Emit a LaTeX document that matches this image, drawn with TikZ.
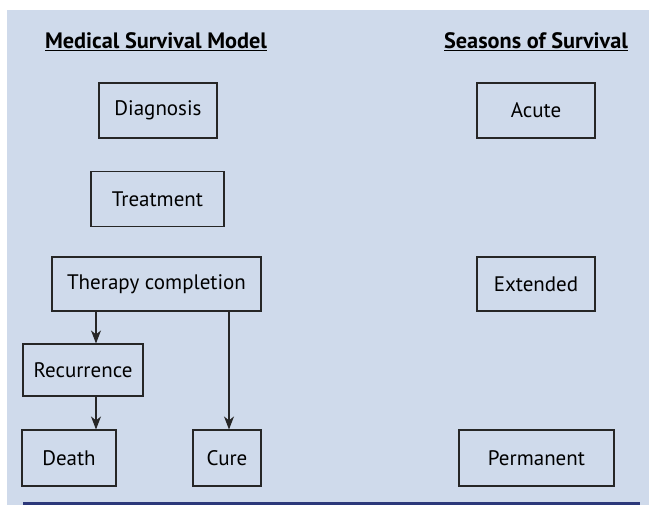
\documentclass[tikz,border=0pt]{standalone}
\usepackage{fontspec}
\setmainfont{PT Sans}
\usetikzlibrary{positioning, arrows.meta}
\definecolor{panelblue}{RGB}{207,218,235}
\definecolor{rulenavy}{RGB}{44,56,122}

\begin{document}
\begin{tikzpicture}[x=1pt, y=-1pt,
    box/.style = {draw=black!85, line width=1.1pt, minimum height=55pt, inner sep=0pt, font=\fontsize{21}{25}\selectfont},
    heading/.style = {font=\bfseries\fontsize{22.3}{26}\selectfont},
    arr/.style = {-{Stealth[length=13pt, width=10pt, inset=4pt]}, line width=1.1pt, black!85}]
    \useasboundingbox (0,0) rectangle (649,505);
    \fill[panelblue] (7,10) rectangle (649,505);
    \fill[rulenavy] (23,502) rectangle (640,505);

    % headings
    \node[heading] (medical) at (156,42) {\underline{Medical Survival Model}};
    \node[heading] (seasons) at (536,42) {\underline{Seasons of Survival}};

    % medical model
    \node[box, minimum width=118pt] (diagnosis) at (158,110.5) {Diagnosis};
    \node[box, minimum width=133pt] (treatment) at (157.5,199) {Treatment};
    \node[box, minimum width=209pt, minimum height=54pt] (therapy) at (156.5,284) {Therapy completion};
    \node[box, minimum width=120pt, minimum height=52pt] (recurrence) at (83,370) {Recurrence};
    \node[box, minimum width=94pt, minimum height=56pt] (death) at (69,458) {Death};
    \node[box, minimum width=68pt, minimum height=56pt] (cure) at (227,458) {Cure};

    % seasons
    \node[box, minimum width=118pt] (acute) at (536,110.5) {Acute};
    \node[box, minimum width=118pt, minimum height=54pt] (extended) at (536,284) {Extended};
    \node[box, minimum width=155pt, minimum height=56pt] (permanent) at (536.5,458) {Permanent};

    \draw[arr] ([xshift=13pt]recurrence.north |- therapy.south) -- ([xshift=13pt]recurrence.north);
    \draw[arr] ([xshift=13pt]recurrence.south) -- ([xshift=13pt]recurrence.south |- death.north);
    \draw[arr] ([xshift=2pt]cure.north |- therapy.south) -- ([xshift=2pt]cure.north);
\end{tikzpicture}
\end{document}
